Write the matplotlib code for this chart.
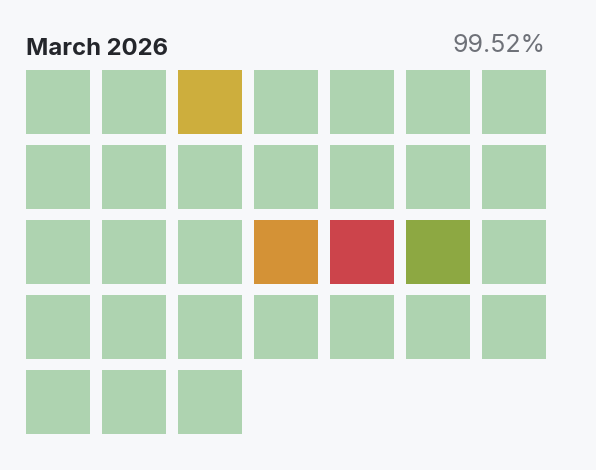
import matplotlib
matplotlib.use("Agg")
import matplotlib.pyplot as plt

# Data
title = "March 2026"
uptime_label = "99.52%"
days = list(range(1, 32))
# status per day: 0 = operational, 1 = minor, 2 = partial, 3 = major, 4 = degraded-ok
status = [0, 0, 1, 0, 0, 0, 0,
          0, 0, 0, 0, 0, 0, 0,
          0, 0, 0, 2, 3, 4, 0,
          0, 0, 0, 0, 0, 0, 0,
          0, 0, 0]
status_colors = {0: "#aed3b0", 1: "#cdae3d", 2: "#d49236", 3: "#cc444b", 4: "#8da842"}

W, H = 596, 470
fig = plt.figure(figsize=(W / 100, H / 100), dpi=100)
fig.patch.set_facecolor("#f7f8fa")
ax = fig.add_axes([0, 0, 1, 1])
ax.set_facecolor("#f7f8fa")

px_x, px_y = 76.0, 75.0
x0, y0 = 26.0, 70.0
ax.set_xlim(-x0 / px_x, (W - x0) / px_x)
ax.set_ylim((H - y0) / px_y, -y0 / px_y)
ax.axis("off")

cols = [(d - 1) % 7 for d in days]
rows = [(d - 1) // 7 for d in days]
colors = [status_colors[s] for s in status]
ax.bar(cols, [63.5 / px_y] * len(days), width=64 / px_x, bottom=rows,
       align="edge", color=colors, linewidth=0)

fig.text(26 / W, 1 - 55 / H, title, fontsize=17.2, fontweight="bold",
         family=["Inter", "DejaVu Sans"], color="#24262b", ha="left", va="baseline")
fig.text(545 / W, 1 - 52 / H, uptime_label, fontsize=18, family=["Inter", "DejaVu Sans"],
         color="#6e7178", ha="right", va="baseline")

fig.savefig("out.png", dpi=100, facecolor=fig.get_facecolor())
